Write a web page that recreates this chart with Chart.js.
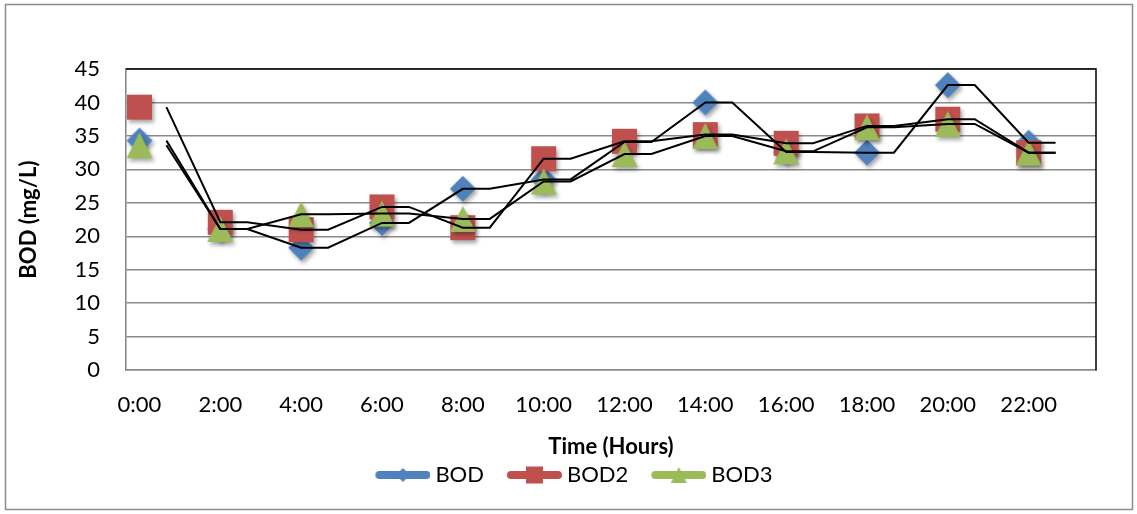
<!DOCTYPE html>
<html>
<head>
<meta charset="utf-8">
<title>BOD over time</title>
<script src="https://cdn.jsdelivr.net/npm/chart.js"></script>
<style>
  html, body { margin: 0; padding: 0; background: #fff; }
  #wrap { width: 1137px; height: 514px; }
</style>
</head>
<body>
<div id="wrap"><canvas id="bodChart" width="1137" height="514"></canvas></div>
<script>
// sampling times and BOD readings (mg/L)
const TIMES = ['0:00', '2:00', '4:00', '6:00', '8:00', '10:00', '12:00', '14:00', '16:00', '18:00', '20:00', '22:00'];
const BOD  = [34.3, 21.1, 18.3, 22.0, 27.1, 28.5, 34.1, 40.0, 32.6, 32.5, 42.6, 34.0];
const BOD2 = [39.3, 22.1, 21.0, 24.4, 21.3, 31.6, 34.2, 35.2, 33.9, 36.5, 37.5, 32.5];
const BOD3 = [33.6, 21.1, 23.3, 23.4, 22.6, 28.2, 32.3, 35.0, 32.7, 36.3, 36.8, 32.5];
const Y_TICKS = [0, 5, 10, 15, 20, 25, 30, 35, 40, 45];

const FONT = 'Lato, "Open Sans", sans-serif';
const SHIFT = 1 / 3; // the black trace sits a third of a slot right of the markers

function drawShape(ctx, shape, cx, cy, size) {
  const h = size / 2;
  ctx.beginPath();
  if (shape === 'diamond') {
    ctx.moveTo(cx, cy - h); ctx.lineTo(cx + h, cy); ctx.lineTo(cx, cy + h); ctx.lineTo(cx - h, cy);
  } else if (shape === 'square') {
    ctx.rect(cx - h, cy - h, size, size);
  } else {
    ctx.moveTo(cx, cy - h); ctx.lineTo(cx + h, cy + h); ctx.lineTo(cx - h, cy + h);
  }
  ctx.closePath();
  ctx.fill();
}

function marker(shape, color, size) {
  const c = document.createElement('canvas');
  c.width = c.height = size + 16;
  const ctx = c.getContext('2d');
  ctx.shadowColor = 'rgba(0,0,0,0.35)';
  ctx.shadowBlur = 4;
  ctx.shadowOffsetX = 2;
  ctx.shadowOffsetY = 3;
  ctx.fillStyle = color;
  drawShape(ctx, shape, c.width / 2, c.height / 2, size);
  return c;
}

// legend key: thick rounded line with the marker in its middle,
// pushed to the right of the image so it sits close to the text
function legendIcon(shape, color, size) {
  const c = document.createElement('canvas');
  c.width = 72; c.height = 22;
  const ctx = c.getContext('2d');
  ctx.strokeStyle = color;
  ctx.lineWidth = 8;
  ctx.lineCap = 'round';
  ctx.beginPath(); ctx.moveTo(21, 11); ctx.lineTo(68, 11); ctx.stroke();
  ctx.fillStyle = color;
  drawShape(ctx, shape, 44.5, 11, size);
  return c;
}

const SERIES = [
  { label: 'BOD',  data: BOD,  color: '#4F81BD', shape: 'diamond',  size: 26, legend: 14, order: 3 },
  { label: 'BOD2', data: BOD2, color: '#C0504D', shape: 'square',   size: 25, legend: 17, order: 2 },
  { label: 'BOD3', data: BOD3, color: '#9BBB59', shape: 'triangle', size: 26, legend: 16, order: 1 }
];

const datasets = [];
SERIES.forEach(s => {
  s.icon = legendIcon(s.shape, s.color, s.legend);
  datasets.push({
    label: s.label,
    data: s.data.map((v, i) => ({ x: i, y: v })),
    showLine: false,
    pointStyle: marker(s.shape, s.color, s.size),
    pointRadius: 12,
    order: s.order
  });
  // stepped black trace: each reading held for a third of a slot
  const trace = [{ x: SHIFT, y: s.data[0] }];
  s.data.slice(1).forEach((v, k) => {
    trace.push({ x: k + 1, y: v }, { x: k + 1 + SHIFT, y: v });
  });
  datasets.push({
    label: s.label + ' trace',
    data: trace,
    showLine: true,
    borderColor: '#000',
    borderWidth: 2,
    pointRadius: 0,
    order: 0
  });
});

const frame = {
  id: 'frame',
  beforeDraw(chart) {
    const { ctx } = chart;
    ctx.save();
    ctx.fillStyle = '#fff';
    ctx.fillRect(0, 0, chart.width, chart.height);
    ctx.restore();
  },
  beforeDatasetsDraw(chart) {
    const { ctx, chartArea: a } = chart;
    ctx.save();
    ctx.strokeStyle = '#000';
    ctx.lineWidth = 1.5;
    ctx.beginPath();
    ctx.moveTo(a.left, a.top);
    ctx.lineTo(a.right, a.top);
    ctx.lineTo(a.right, a.bottom);
    ctx.stroke();
    ctx.restore();
  },
  afterDraw(chart) {
    const { ctx } = chart;
    ctx.save();
    ctx.strokeStyle = '#8c8c8c';
    ctx.lineWidth = 1.5;
    ctx.strokeRect(5.5, 4.5, 1127, 505);
    ctx.restore();
  }
};

new Chart(document.getElementById('bodChart'), {
  type: 'scatter',
  data: { datasets },
  plugins: [frame],
  options: {
    responsive: false,
    animation: false,
    layout: { padding: { left: 6, right: 6, top: 69, bottom: 18 } },
    plugins: {
      tooltip: { enabled: false },
      legend: {
        position: 'bottom',
        labels: {
          usePointStyle: true,
          pointStyleWidth: 60,
          padding: 12,
          color: '#000',
          font: { family: FONT, size: 22 },
          generateLabels: () => SERIES.map((s, i) => ({
            text: s.label,
            pointStyle: s.icon,
            fillStyle: s.color,
            strokeStyle: s.color,
            lineWidth: 0,
            hidden: false,
            datasetIndex: i * 2
          }))
        }
      }
    },
    scales: {
      x: {
        type: 'linear',
        min: -1 / 6,
        max: 71 / 6,
        afterBuildTicks: axis => { axis.ticks = TIMES.map((_, i) => ({ value: i })); },
        afterFit: scale => { scale.height -= 7; },
        grid: { display: false, drawTicks: false },
        border: { color: '#8a8a8a', width: 1.6 },
        ticks: {
          padding: 22,
          color: '#000',
          maxRotation: 0,
          autoSkip: false,
          font: { family: FONT, size: 22 },
          callback: v => TIMES[v]
        },
        title: {
          display: true,
          text: 'Time (Hours)',
          color: '#000',
          padding: { top: 0, bottom: -8 },
          font: { family: FONT, size: 22, weight: 'bold' }
        }
      },
      y: {
        min: 0,
        max: 45,
        afterBuildTicks: axis => { axis.ticks = Y_TICKS.map(v => ({ value: v })); },
        afterFit: scale => { scale.width = 120; },
        grid: { color: '#8a8a8a', lineWidth: 1.6, drawTicks: false },
        border: { color: '#8a8a8a', width: 1.6 },
        ticks: {
          padding: 26,
          color: '#000',
          font: { family: FONT, size: 22 }
        },
        title: {
          display: true,
          text: 'BOD (mg/L)',
          color: '#000',
          padding: { top: 10, bottom: 0 },
          font: { family: FONT, size: 22, weight: 'bold' }
        }
      },
      // empty right-hand strip, keeps the plot clear of the frame
      gutter: {
        type: 'linear',
        position: 'right',
        afterFit: scale => { scale.width = 35; },
        grid: { display: false, drawTicks: false },
        border: { display: false },
        ticks: { display: false }
      }
    }
  }
});
</script>
</body>
</html>
